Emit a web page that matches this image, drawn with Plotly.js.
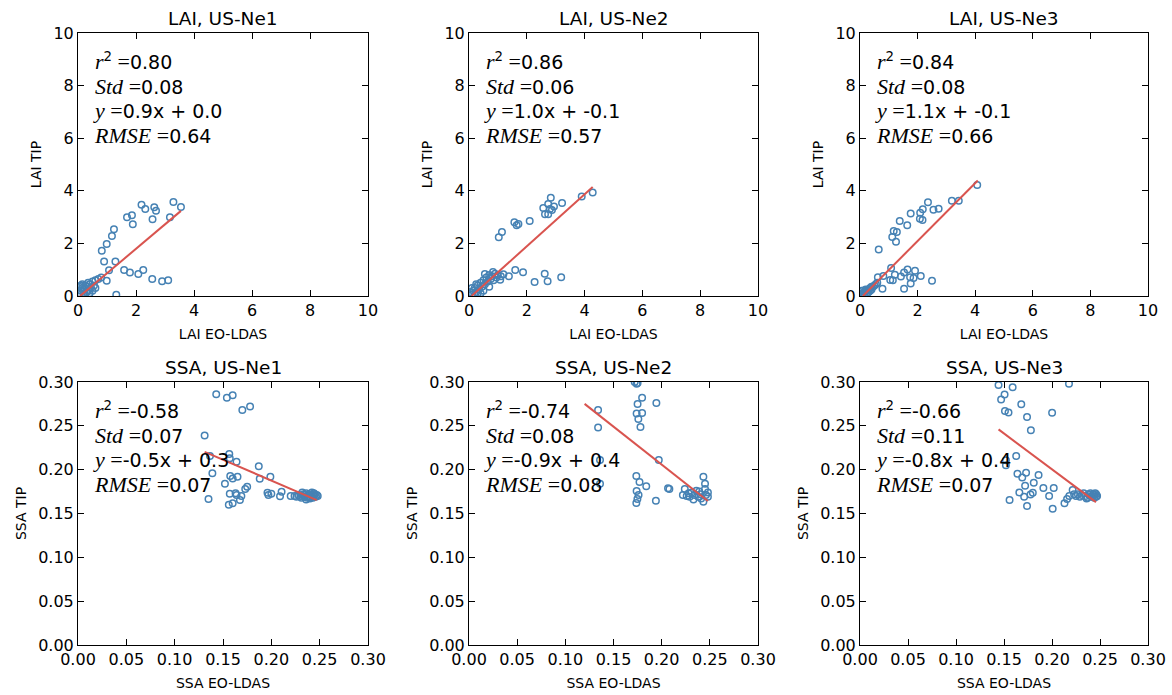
<!DOCTYPE html>
<html><head><meta charset="utf-8">
<script src="https://cdn.plot.ly/plotly-3.0.1.min.js"></script>
<style>body{margin:0;background:#fff}</style>
</head><body><div id="chart" style="width:1172px;height:695px"></div>
<script>
// ---- LAI, US-Ne1 ----
const laiNe1X = [2.19,2.32,2.63,2.69,3.29,3.55,2.57,3.17,1.69,1.86,1.89,1.24,1.17,0.99,0.82,0.90,1.29,1.07,0.99,1.59,1.79,2.08,2.25,2.56,2.90,3.11,1.32,
  0.05,0.10,0.15,0.20,0.25,0.30,0.35,0.40,0.50,0.60,0.70,0.10,0.20,0.30,0.45,0.55,0.15,0.05,0.25,0.60,0.35,0.80,0.50,0.40,0.10];
const laiNe1Y = [3.47,3.31,3.37,3.24,3.57,3.38,2.92,2.99,2.99,3.07,2.73,2.54,2.28,1.98,1.72,1.31,1.31,0.98,0.58,0.99,0.89,0.84,0.99,0.65,0.56,0.60,0.05,
  0.10,0.20,0.30,0.25,0.40,0.35,0.50,0.45,0.55,0.60,0.65,0.05,0.10,0.15,0.30,0.40,0.45,0.35,0.05,0.30,0.20,0.70,0.20,0.10,0.40];
// ---- LAI, US-Ne2 ----
const laiNe2X = [4.28,3.90,2.83,2.74,2.57,2.94,3.22,2.80,2.63,2.74,2.87,1.57,1.65,1.71,2.10,1.14,1.03,1.60,1.87,2.27,2.62,2.72,3.19,1.38,1.19,1.08,0.83,0.55,
  0.10,0.15,0.20,0.25,0.30,0.35,0.40,0.45,0.50,0.55,0.60,0.65,0.70,0.75,0.80,0.85,0.90,0.95,1.00,1.10,0.20,0.30,0.50,0.05,0.10,0.40,0.70,0.25];
const laiNe2Y = [3.94,3.78,3.74,3.50,3.35,3.40,3.54,3.31,3.11,3.11,3.27,2.80,2.69,2.74,2.85,2.43,2.23,0.99,0.90,0.53,0.85,0.56,0.71,0.75,0.83,0.62,0.91,0.84,
  0.05,0.20,0.30,0.15,0.40,0.25,0.50,0.35,0.60,0.45,0.70,0.55,0.80,0.65,0.75,0.60,0.85,0.70,0.80,0.75,0.05,0.10,0.20,0.15,0.30,0.10,0.35,0.45];
// ---- LAI, US-Ne3 ----
const laiNe3X = [4.07,3.43,3.19,2.73,2.55,2.36,2.18,2.09,2.08,2.17,1.76,1.38,1.64,1.17,1.28,1.12,1.25,0.65,1.08,1.65,1.91,1.53,1.21,1.42,1.74,2.11,1.86,1.05,1.14,1.76,2.50,1.53,0.78,0.62,0.81,
  0.05,0.10,0.15,0.20,0.25,0.30,0.35,0.40,0.45,0.50,0.10,0.20,0.30,0.15,0.25,0.35,0.55,0.05,0.40,0.60];
const laiNe3Y = [4.22,3.62,3.62,3.32,3.28,3.56,3.30,3.17,2.94,2.89,3.14,2.85,2.69,2.47,2.43,2.24,2.06,1.77,1.06,1.01,0.96,0.89,0.81,0.74,0.71,0.76,0.68,0.61,0.60,0.48,0.58,0.28,0.28,0.71,0.76,
  0.05,0.10,0.15,0.20,0.22,0.25,0.30,0.35,0.35,0.40,0.20,0.25,0.15,0.05,0.10,0.20,0.45,0.20,0.25,0.50];
// ---- SSA, US-Ne1 ----
const ssaNe1X = [0.143,0.154,0.160,0.170,0.178,0.131,0.1365,0.1565,0.157,0.164,0.187,0.139,0.1575,0.160,0.165,0.188,0.199,0.152,0.175,0.173,0.135,0.157,0.163,0.164,0.169,0.1675,0.156,0.160,0.196,0.197,0.200,0.2106,0.209,0.220,
  0.224,0.226,0.228,0.230,0.231,0.233,0.234,0.235,0.236,0.237,0.238,0.239,0.240,0.241,0.242,0.243,0.244,0.245,0.246,0.247,0.248,0.236,0.240,0.244,0.232];
const ssaNe1Y = [0.286,0.282,0.285,0.268,0.272,0.239,0.2155,0.218,0.213,0.209,0.204,0.196,0.1927,0.190,0.192,0.1897,0.192,0.184,0.1805,0.178,0.1665,0.1725,0.173,0.171,0.170,0.1653,0.160,0.1616,0.1737,0.171,0.1725,0.1749,0.1696,0.170,
  0.170,0.169,0.171,0.170,0.168,0.172,0.169,0.171,0.173,0.168,0.170,0.172,0.169,0.171,0.174,0.168,0.170,0.172,0.169,0.171,0.170,0.166,0.167,0.173,0.174];
// ---- SSA, US-Ne2 ----
const ssaNe2X = [0.172,0.174,0.175,0.1797,0.175,0.1945,0.134,0.174,0.1797,0.1758,0.178,0.134,0.197,0.136,0.1737,0.177,0.184,0.174,0.176,0.1748,0.1737,0.194,0.2066,0.208,0.136,
  0.2433,0.245,0.245,0.224,0.228,0.222,0.229,0.236,0.234,0.239,0.241,0.246,0.248,0.2433,0.238,0.233,0.248,0.231,0.226,0.240];
const ssaNe2Y = [0.300,0.298,0.299,0.282,0.275,0.276,0.268,0.264,0.2645,0.2577,0.2486,0.248,0.211,0.211,0.1927,0.186,0.181,0.1756,0.171,0.1665,0.162,0.1645,0.1787,0.178,0.184,
  0.192,0.184,0.178,0.178,0.173,0.171,0.169,0.176,0.171,0.175,0.167,0.171,0.169,0.1635,0.169,0.166,0.174,0.174,0.170,0.172];
// ---- SSA, US-Ne3 ----
const ssaNe3X = [0.1443,0.159,0.2177,0.1506,0.147,0.168,0.151,0.1547,0.2001,0.174,0.178,0.1627,0.152,0.152,0.164,0.169,0.173,0.186,0.181,0.172,0.191,0.2018,0.166,0.1776,0.180,0.171,0.197,0.1558,0.174,0.2007,0.213,0.2157,0.218,0.2215,0.223,
  0.225,0.227,0.229,0.231,0.233,0.235,0.237,0.239,0.240,0.241,0.242,0.243,0.244,0.245,0.246,0.247,0.236,0.238,0.244,0.246];
const ssaNe3Y = [0.2965,0.294,0.298,0.2858,0.280,0.2745,0.267,0.2653,0.2649,0.260,0.245,0.2155,0.2106,0.205,0.1953,0.191,0.1965,0.194,0.185,0.1817,0.179,0.179,0.174,0.1718,0.1737,0.169,0.170,0.1653,0.1585,0.1554,0.1616,0.1665,0.170,0.1767,0.172,
  0.170,0.172,0.169,0.171,0.173,0.170,0.168,0.171,0.173,0.169,0.170,0.172,0.171,0.173,0.169,0.170,0.167,0.172,0.168,0.172];

// regression lines
const fitSlope     = [0.93, 0.99, 1.10, -0.475, -0.866, -0.818];
const fitIntercept = [-0.065, -0.09, -0.11, 0.2826, 0.379, 0.364];
const fitXStart    = [0.07, 0.09, 0.10, 0.131, 0.120, 0.1443];
const fitXEnd      = [3.55, 4.28, 4.09, 0.247, 0.248, 0.2458];

// annotation texts
const panelTitles = ['LAI, US-Ne1','LAI, US-Ne2','LAI, US-Ne3','SSA, US-Ne1','SSA, US-Ne2','SSA, US-Ne3'];
const r2Text   = ['0.80','0.86','0.84','-0.58','-0.74','-0.66'];
const stdText  = ['0.08','0.06','0.08','0.07','0.08','0.11'];
const eqText   = ['0.9x + 0.0','1.0x + -0.1','1.1x + -0.1','-0.5x + 0.3','-0.9x + 0.4','-0.8x + 0.4'];
const rmseText = ['0.64','0.57','0.66','0.07','0.08','0.07'];
const xLabels  = ['LAI EO-LDAS','LAI EO-LDAS','LAI EO-LDAS','SSA EO-LDAS','SSA EO-LDAS','SSA EO-LDAS'];
const yLabels  = ['LAI TIP','LAI TIP','LAI TIP','SSA TIP','SSA TIP','SSA TIP'];

const seriesX = [laiNe1X, laiNe2X, laiNe3X, ssaNe1X, ssaNe2X, ssaNe3X];
const seriesY = [laiNe1Y, laiNe2Y, laiNe3Y, ssaNe1Y, ssaNe2Y, ssaNe3Y];

const W = 1172, H = 695;
const colPx = [[78,368],[469,758],[860,1148]];
const rowPx = [[33,296],[382,645]];

const FONT = 'DejaVu Sans';
const SERIF = 'Liberation Serif';
const blue = '#4682b4';
const red = '#d9544f';

const traces = [];
const layout = {
  width: W, height: H,
  margin: {l:0, r:0, t:0, b:0},
  paper_bgcolor: '#fff', plot_bgcolor: '#fff',
  showlegend: false,
  font: {family: FONT, size: 16, color: '#000'},
  annotations: []
};

function it(s){ return '<span style="font-family:' + SERIF + ';font-style:italic;font-size:22px">' + s + '</span>'; }
function eq(){ return '<span style="font-family:' + SERIF + ';font-size:22px"> =</span>'; }

for (let i = 0; i < 6; i++) {
  const row = Math.floor(i / 3), col = i % 3;
  const n = i + 1;
  const xa = 'x' + n, ya = 'y' + n;
  const isLai = row === 0;
  traces.push({
    type: 'scatter', mode: 'markers', x: seriesX[i], y: seriesY[i],
    xaxis: xa, yaxis: ya,
    marker: {symbol: 'circle-open', size: 6.5, color: blue, line: {width: 1.5, color: blue}},
    hoverinfo: 'x+y'
  });
  const lx = [fitXStart[i], fitXEnd[i]];
  traces.push({
    type: 'scatter', mode: 'lines', x: lx, y: lx.map(v => fitSlope[i] * v + fitIntercept[i]),
    xaxis: xa, yaxis: ya, line: {color: red, width: 2}, hoverinfo: 'skip'
  });
  const xd = [colPx[col][0] / W, colPx[col][1] / W];
  const yd = [1 - rowPx[row][1] / H, 1 - rowPx[row][0] / H];
  const common = {
    ticks: 'inside', ticklen: 6, tickwidth: 1, tickcolor: '#000',
    mirror: 'allticks', showline: true, linecolor: '#000', linewidth: 1,
    showgrid: false, zeroline: false, tickfont: {family: FONT, size: 16, color: '#000'}
  };
  layout['xaxis' + (n === 1 ? '' : n)] = Object.assign({}, common, {
    domain: xd, anchor: ya, range: isLai ? [0, 10] : [0, 0.3],
    tick0: 0, dtick: isLai ? 2 : 0.05, tickformat: isLai ? 'd' : '.2f',
    title: {text: xLabels[i], font: {family: FONT, size: 14}, standoff: 9}
  });
  layout['yaxis' + (n === 1 ? '' : n)] = Object.assign({}, common, {
    domain: yd, anchor: xa, range: isLai ? [0, 10] : [0, 0.3],
    tick0: 0, dtick: isLai ? 2 : 0.05, tickformat: isLai ? 'd' : '.2f',
    title: {text: yLabels[i], font: {family: FONT, size: 14}, standoff: 8}
  });
  // panel title
  layout.annotations.push({
    xref: xa + ' domain', yref: ya + ' domain', x: 0.5, y: 1, yshift: 2,
    xanchor: 'center', yanchor: 'bottom', showarrow: false,
    text: panelTitles[i], font: {family: FONT, size: 18.5, color: '#000'}
  });
  // stats block (four lines in one annotation)
  const lines = [
    it('r') + '<sup>2</sup>' + eq() + r2Text[i],
    it('Std') + eq() + stdText[i],
    it('y') + eq() + eqText[i],
    it('RMSE') + eq() + rmseText[i]
  ];
  layout.annotations.push({
    xref: xa + ' domain', yref: ya + ' domain',
    x: 13 / 290, y: 1 - 66 / 263,
    xanchor: 'left', yanchor: 'middle', align: 'left', showarrow: false,
    text: lines.join('<br>'), font: {family: FONT, size: 19, color: '#000'}
  });
}

Plotly.newPlot('chart', traces, layout, {displayModeBar: false, staticPlot: true});
</script>
</body></html>
